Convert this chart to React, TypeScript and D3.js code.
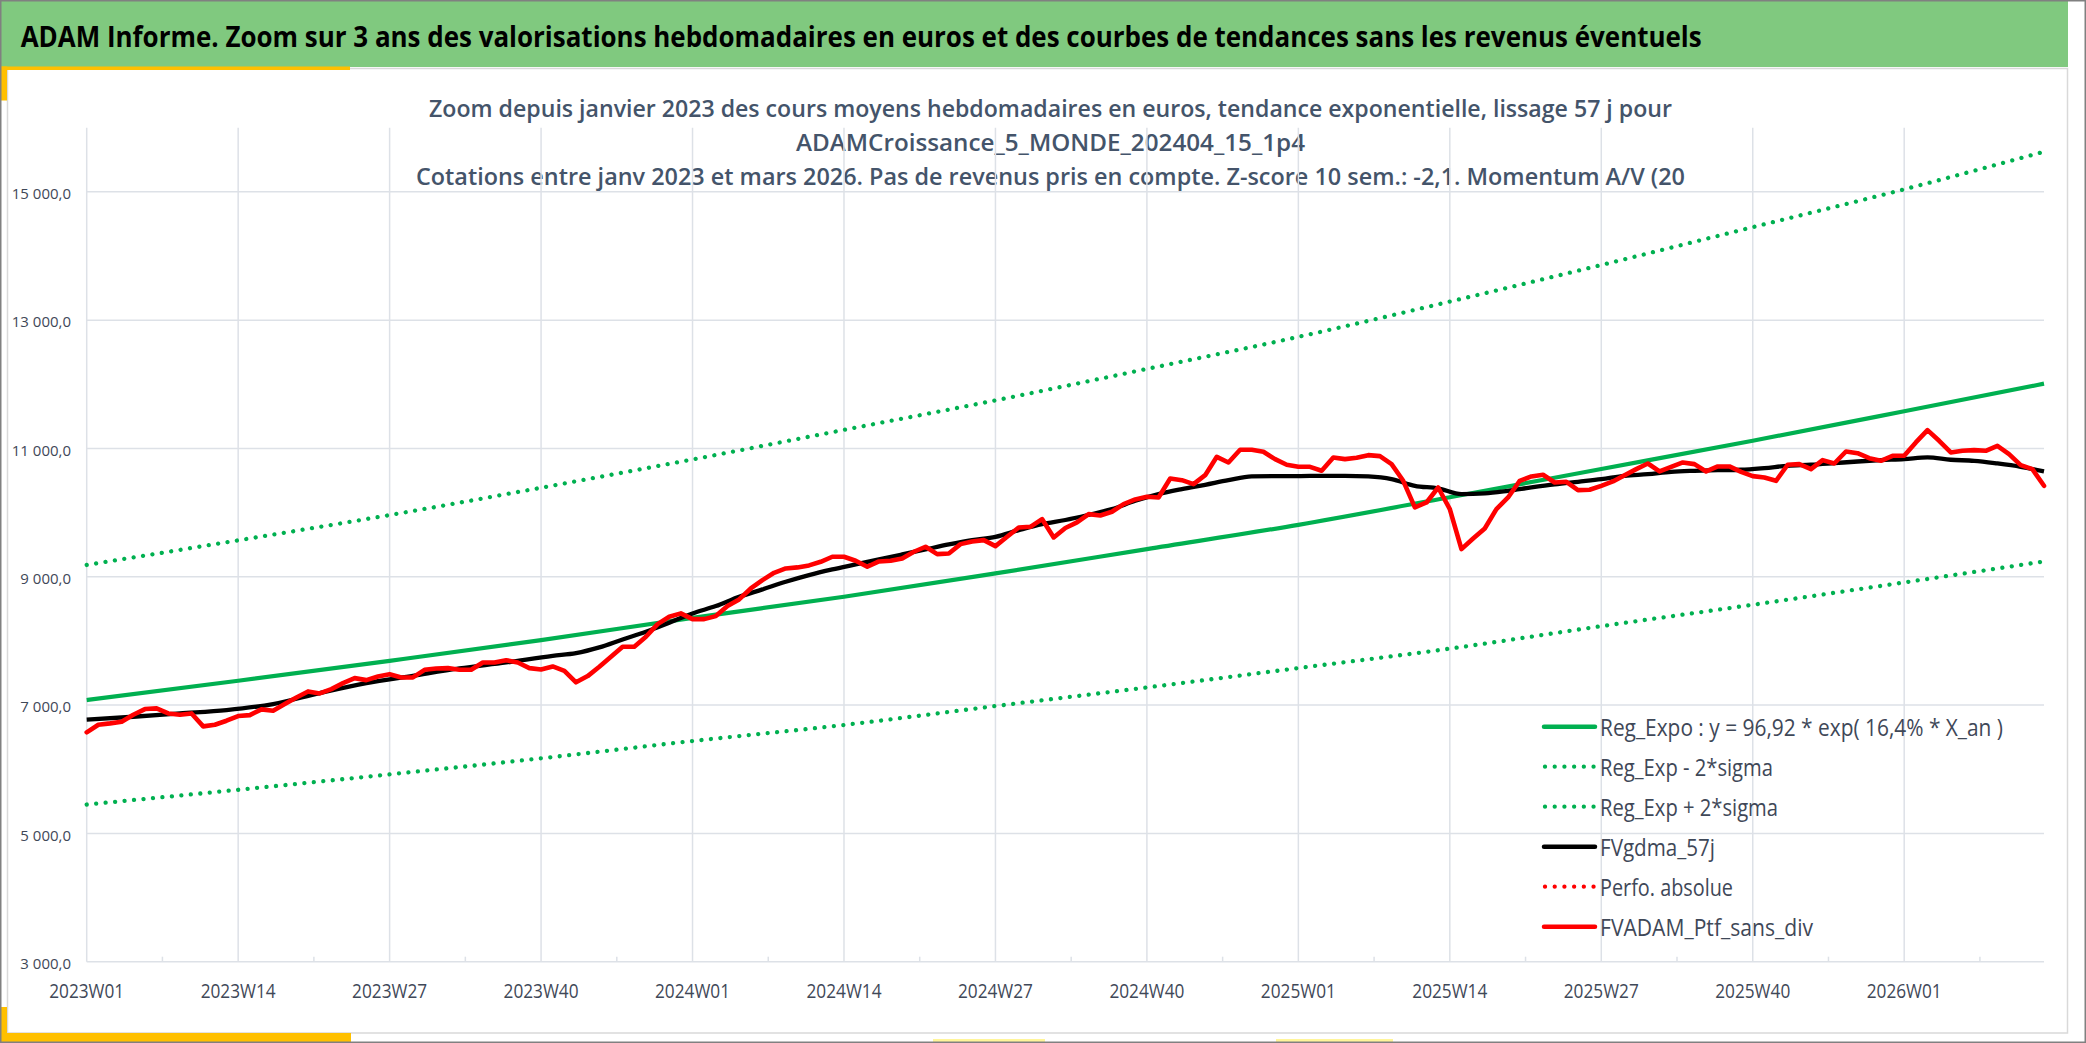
import { useEffect, useRef } from "react";
import * as d3 from "d3";

const WIDTH = 2086;
const HEIGHT = 1043;
const FONT = "'Open Sans', 'Noto Sans', sans-serif";
const GREEN = "#00B050";
const RED = "#FF0000";
const LABEL = "#3F4858";
const GRID = "#DDE1E7";

// weekly categories (ISO weeks), from 2023W01 to 2026W13
const YEAR_WEEKS: [number, number][] = [
  [2023, 52],
  [2024, 52],
  [2025, 52],
  [2026, 13],
];
const weeks: string[] = YEAR_WEEKS.flatMap(([year, n]) =>
  d3.range(1, n + 1).map((w) => `${year}W${String(w).padStart(2, "0")}`)
);

const tickLabels = [
  "2023W01", "2023W14", "2023W27", "2023W40",
  "2024W01", "2024W14", "2024W27", "2024W40",
  "2025W01", "2025W14", "2025W27", "2025W40",
  "2026W01",
];
const yTicks = [3000, 5000, 7000, 9000, 11000, 13000, 15000];

// trend curves, read at each labelled week and at the last week
const trendWeeks = [...tickLabels, "2026W13"];
const regExpo = [7078, 7379, 7690, 8012, 8360, 8688, 9052, 9431, 9810, 10240, 10680, 11120, 11580, 12010];
const regExpMinus = [5450, 5680, 5920, 6170, 6440, 6690, 6985, 7275, 7577, 7880, 8230, 8564, 8912, 9239];
const regExpPlus = [9184, 9568, 9962, 10388, 10829, 11290, 11750, 12240, 12740, 13290, 13860, 14450, 15040, 15626];

// FVgdma_57j (smoothed), read every few weeks: [week index, value]
const gdma: [number, number][] = [
  [0, 6772], [4, 6818], [8, 6870], [12, 6922], [16, 7016], [20, 7187],
  [24, 7342], [28, 7457], [32, 7571], [36, 7664], [40, 7768], [42, 7810],
  [44, 7899], [46, 8023], [48, 8143], [50, 8283], [52, 8429], [54, 8543],
  [56, 8688], [58, 8803], [60, 8922], [62, 9026], [64, 9114], [66, 9192],
  [68, 9270], [70, 9348], [72, 9426], [74, 9504], [76, 9572], [78, 9623],
  [80, 9727], [82, 9821], [84, 9885], [86, 9966], [88, 10055], [90, 10184],
  [92, 10288], [94, 10366], [96, 10434], [98, 10506], [100, 10564], [102, 10569],
  [104, 10569], [106, 10574], [108, 10574], [110, 10564], [112, 10522], [114, 10418],
  [116, 10377], [118, 10288], [120, 10299], [122, 10340], [124, 10392], [126, 10440],
  [128, 10481], [130, 10522], [132, 10574], [134, 10600], [136, 10636], [138, 10652],
  [140, 10662], [142, 10668], [144, 10694], [146, 10730], [148, 10746], [150, 10771],
  [152, 10797], [154, 10818], [156, 10834], [158, 10860], [160, 10824], [162, 10808],
  [164, 10766], [166, 10714], [168, 10642],
];

// FVADAM_Ptf_sans_div, one value per week
const ptf = [
  6575, 6694, 6715, 6741, 6850, 6938, 6948, 6870, 6850, 6870,
  6668, 6694, 6756, 6829, 6844, 6933, 6912, 7016, 7119, 7213,
  7182, 7249, 7342, 7420, 7389, 7446, 7482, 7431, 7431, 7550,
  7571, 7576, 7550, 7550, 7664, 7664, 7700, 7664, 7576, 7555,
  7602, 7534, 7355, 7452, 7597, 7753, 7909, 7909, 8065, 8262,
  8377, 8429, 8340, 8340, 8387, 8543, 8647, 8818, 8948, 9062,
  9130, 9146, 9177, 9234, 9312, 9312, 9250, 9156, 9239, 9250,
  9286, 9390, 9468, 9353, 9364, 9509, 9551, 9571, 9478, 9623,
  9769, 9779, 9899, 9613, 9760, 9847, 9977, 9956, 10013, 10133,
  10205, 10247, 10236, 10532, 10506, 10444, 10584, 10870, 10782, 10979,
  10979, 10948, 10834, 10746, 10714, 10714, 10652, 10860, 10834, 10855,
  10896, 10881, 10756, 10496, 10081, 10158, 10392, 10055, 9431, 9597,
  9753, 10055, 10236, 10496, 10564, 10590, 10470, 10481, 10351, 10356,
  10418, 10486, 10584, 10678, 10766, 10642, 10714, 10782, 10756, 10642,
  10720, 10720, 10636, 10569, 10548, 10496, 10746, 10756, 10678, 10818,
  10766, 10953, 10927, 10849, 10808, 10886, 10886, 11094, 11286, 11120,
  10938, 10964, 10974, 10964, 11042, 10912, 10740, 10678, 10418,
];

const legendItems = [
  { label: "Reg_Expo : y = 96,92 * exp( 16,4% *  X_an )", color: GREEN, dotted: false, len: 403 },
  { label: "Reg_Exp - 2*sigma", color: GREEN, dotted: true, len: 173 },
  { label: "Reg_Exp + 2*sigma", color: GREEN, dotted: true, len: 178 },
  { label: "FVgdma_57j", color: "#000000", dotted: false, len: 115 },
  { label: "Perfo. absolue", color: RED, dotted: true, len: 133 },
  { label: "FVADAM_Ptf_sans_div", color: RED, dotted: false, len: 213 },
];

const title =
  "ADAM Informe. Zoom sur 3 ans des valorisations hebdomadaires en euros et des courbes de tendances sans les revenus éventuels";
const subtitle = [
  { text: "Zoom depuis janvier 2023 des cours moyens hebdomadaires en euros, tendance exponentielle, lissage 57 j pour", len: 1243 },
  { text: "ADAMCroissance_5_MONDE_202404_15_1p4", len: 509 },
  { text: "Cotations entre janv 2023 et mars 2026. Pas de revenus pris en compte. Z-score 10 sem.: -2,1. Momentum A/V (20", len: 1269 },
];

export default function App() {
  const svgRef = useRef<SVGSVGElement>(null);

  useEffect(() => {
    if (!svgRef.current) return;
    document.body.style.margin = "0";

    const svg = d3.select(svgRef.current);
    svg.selectAll("*").remove();

    // background, header band and frame decorations
    svg.append("rect").attr("width", WIDTH).attr("height", HEIGHT).attr("fill", "#ffffff");
    svg.append("rect").attr("x", 1).attr("y", 1).attr("width", 2067).attr("height", 66).attr("fill", "#80C97F");
    svg
      .append("rect")
      .attr("x", 7.5)
      .attr("y", 68.5)
      .attr("width", 2060)
      .attr("height", 964.5)
      .attr("fill", "none")
      .attr("stroke", "#D9D9D9")
      .attr("stroke-width", 1.5);
    const yellow = "#FFC000";
    svg.append("rect").attr("x", 0).attr("y", 66.5).attr("width", 350).attr("height", 3.5).attr("fill", yellow);
    svg.append("rect").attr("x", 0).attr("y", 66.5).attr("width", 7).attr("height", 34).attr("fill", yellow);
    svg.append("rect").attr("x", 0).attr("y", 1033).attr("width", 351).attr("height", 9).attr("fill", yellow);
    svg.append("rect").attr("x", 0).attr("y", 1007).attr("width", 7).attr("height", 35).attr("fill", yellow);
    svg.append("rect").attr("x", 933).attr("y", 1039).attr("width", 112).attr("height", 3).attr("fill", "#FFF59A");
    svg.append("rect").attr("x", 1276).attr("y", 1039).attr("width", 117).attr("height", 3).attr("fill", "#FFF59A");
    svg
      .append("rect")
      .attr("x", 0.75)
      .attr("y", 0.75)
      .attr("width", WIDTH - 1.5)
      .attr("height", HEIGHT - 1.5)
      .attr("fill", "none")
      .attr("stroke", "#808080")
      .attr("stroke-width", 1.5);

    const addText = (
      x: number,
      y: number,
      text: string,
      size: number,
      opts: { weight?: number; fill?: string; anchor?: string; len?: number } = {}
    ) => {
      const t = svg
        .append("text")
        .attr("x", x)
        .attr("y", y)
        .attr("font-family", FONT)
        .attr("font-size", size)
        .attr("font-weight", opts.weight ?? 400)
        .attr("fill", opts.fill ?? LABEL)
        .attr("text-anchor", opts.anchor ?? "start")
        .text(text);
      if (opts.len) t.attr("textLength", opts.len).attr("lengthAdjust", "spacingAndGlyphs");
      return t;
    };

    addText(20.7, 46.7, title, 28, { weight: 700, fill: "#000000", len: 1681 });
    subtitle.forEach((s, i) =>
      addText(1050.5, 116.5 + i * 34, s.text, 22.5, { weight: 600, fill: "#44546A", anchor: "middle", len: s.len })
    );

    // scales
    const left = 86.7;
    const right = 2044;
    const top = 127.7;
    const bottom = 961.7;
    const x = d3.scalePoint<string>().domain(weeks).range([left, right]);
    const y = d3.scaleLinear().domain([3000, 16000]).range([bottom, top]);

    const grid = svg.append("g").attr("stroke", GRID).attr("stroke-width", 1.5);
    yTicks.forEach((v) =>
      grid.append("line").attr("x1", left).attr("x2", right).attr("y1", y(v)).attr("y2", y(v))
    );
    tickLabels.forEach((w) =>
      grid.append("line").attr("x1", x(w)!).attr("x2", x(w)!).attr("y1", top).attr("y2", bottom)
    );
    // minor tick marks halfway between labels
    tickLabels.forEach((w) => {
      const mx = x(w)! + 6.5 * x.step();
      if (mx < right) grid.append("line").attr("x1", mx).attr("x2", mx).attr("y1", bottom - 5).attr("y2", bottom);
    });

    yTicks.forEach((v) =>
      addText(71, y(v) + 7.3, d3.format(",.1f")(v).replace(",", " ").replace(".", ","), 15, { anchor: "end" })
    );
    tickLabels.forEach((w) => addText(x(w)!, 998, w, 20, { anchor: "middle", len: 75 }));

    // series
    const trendLine = d3
      .line<[string, number]>()
      .x((d) => x(d[0])!)
      .y((d) => y(d[1]))
      .curve(d3.curveMonotoneX);
    const zip = (vals: number[]) => trendWeeks.map((w, i) => [w, vals[i]] as [string, number]);

    const plot = svg.append("g").attr("fill", "none").attr("stroke-linejoin", "round");

    [regExpMinus, regExpPlus].forEach((vals) =>
      plot
        .append("path")
        .datum(zip(vals))
        .attr("stroke", GREEN)
        .attr("stroke-width", 4.3)
        .attr("stroke-linecap", "round")
        .attr("stroke-dasharray", "0.01 9.5")
        .attr("d", trendLine)
    );
    plot.append("path").datum(zip(regExpo)).attr("stroke", GREEN).attr("stroke-width", 4.2).attr("d", trendLine);

    plot
      .append("path")
      .datum(gdma.map(([i, v]) => [weeks[i], v] as [string, number]))
      .attr("stroke", "#000000")
      .attr("stroke-width", 4.3)
      .attr("d", trendLine);

    const ptfLine = d3
      .line<number>()
      .x((_, i) => x(weeks[i])!)
      .y((d) => y(d));
    plot
      .append("path")
      .datum(ptf)
      .attr("stroke", RED)
      .attr("stroke-width", 4.6)
      .attr("stroke-linecap", "round")
      .attr("d", ptfLine);

    // legend
    legendItems.forEach((item, i) => {
      const cy = 726.7 + i * 40;
      svg
        .append("line")
        .attr("x1", item.dotted ? 1545 : 1544)
        .attr("x2", 1595)
        .attr("y1", cy)
        .attr("y2", cy)
        .attr("stroke", item.color)
        .attr("stroke-width", item.dotted ? 4.3 : 4.5)
        .attr("stroke-linecap", "round")
        .attr("stroke-dasharray", item.dotted ? "0.01 9.7" : null);
      addText(1600, cy + 8.8, item.label, 24, { len: item.len });
    });
  }, []);

  return <svg ref={svgRef} width={WIDTH} height={HEIGHT} style={{ display: "block" }} />;
}
